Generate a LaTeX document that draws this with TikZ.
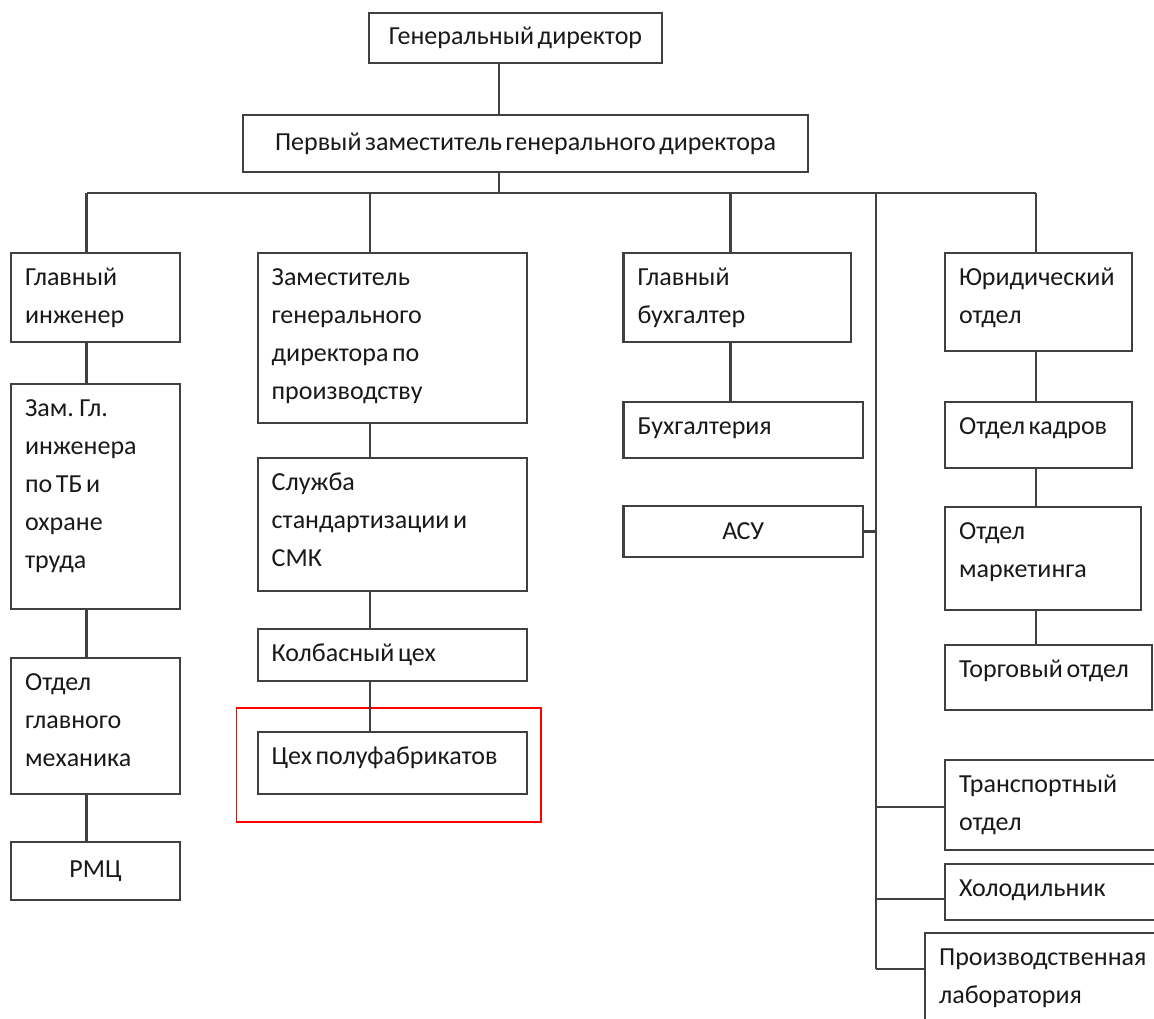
\documentclass[tikz,border=0pt]{standalone}
\usepackage{fontspec}
\setmainfont{Carlito}[WordSpace=0.6]
\newcommand\firstl{\rule{0pt}{22pt}}
\newcommand\obox[6]{%
  \node[box,minimum width={#4-#2},minimum height={#5-#3}] (#1) at ({(#2+#4)/2},{(#3+#5)/2}) {};
  \node[txt] (#1-t) at ([xshift=15pt,yshift=-11pt]#1.north west) {\firstl #6};}
\begin{document}
\begin{tikzpicture}[x=1pt,y=-1pt,
  box/.style={draw=black!75,line width=2.2pt,inner sep=0pt,rectangle},
  ctxt/.style={font=\fontsize{26}{38}\selectfont,text=black!90},
  txt/.style={anchor=north west,inner sep=0pt,align=left,font=\fontsize{26}{38}\selectfont,text=black!90},
  conn/.style={draw=black!75,line width=2.2pt},
  hl/.style={draw=red,line width=1.3pt}]
\useasboundingbox (0,0) rectangle (1154,1018);
\clip (0,0) rectangle (1154,1018);
\fill[white] (0,0) rectangle (1154,1018);
% top
\node[box,ctxt,minimum width=293,minimum height=50] (gd) at (515.5,38) {Генеральный директор};
\node[box,ctxt,minimum width=565,minimum height=57] (fd) at (525.5,143.5) {Первый заместитель генерального директора};
% column coordinates
\coordinate (trunk) at (499,193);
\coordinate (c1) at (86.5,193);
\coordinate (c2) at (370,193);
\coordinate (c3) at (730.5,193);
\coordinate (c4) at (876,193);
\coordinate (c5) at (1036,193);
% column 1
\obox{gi}{11}{253}{180}{342}{Главный\\инженер}
\obox{zgi}{11}{384}{180}{609}{Зам. Гл.\\инженера\\по ТБ и\\охране\\труда}
\obox{ogm}{11}{658}{180}{794}{Отдел\\главного\\механика}
\node[box,ctxt,minimum width=169,minimum height=58] (rmc) at (95.5,871) {РМЦ};
% column 2
\obox{zgd}{257.6}{253}{527}{423}{Заместитель\\генерального\\директора по\\производству}
\obox{smk}{257.6}{458}{527}{591}{Служба\\стандартизации и\\СМК}
\obox{kol}{257.6}{629}{527}{681}{Колбасный цех}
\obox{pf}{257.6}{732}{527}{794}{Цех полуфабрикатов}
\draw[hl] (236.6,708) rectangle (541,822);
% column 3
\obox{gb}{623.4}{253}{851}{342}{Главный\\бухгалтер}
\obox{bux}{623.4}{402}{863}{458}{Бухгалтерия}
\node[box,ctxt,minimum width=239.6,minimum height=51] (asu) at (743.2,531.5) {АСУ};
% column 5
\obox{yur}{945}{253}{1132}{351}{Юридический\\отдел}
\obox{kad}{945}{402}{1132}{468}{Отдел кадров}
\obox{mar}{945}{507}{1141}{610}{Отдел\\маркетинга}
\obox{torg}{945}{645}{1152}{710}{Торговый отдел}
\obox{tr}{945}{760}{1170}{850}{Транспортный\\отдел}
\obox{hol}{945}{864}{1170}{920}{Холодильник}
\obox{pl}{925}{933}{1170}{1040}{Производственная\\лаборатория}
% connectors
\draw[conn] (gd.south -| trunk) -- (fd.north -| trunk);
\draw[conn] (fd.south -| trunk) -- (trunk);
\draw[conn] (c1) -- (c5);
\draw[conn] (c1) -- (gi.north -| c1);
\draw[conn] (gi.south -| c1) -- (zgi.north -| c1);
\draw[conn] (zgi.south -| c1) -- (ogm.north -| c1);
\draw[conn] (ogm.south -| c1) -- (rmc.north -| c1);
\draw[conn] (c2) -- (zgd.north -| c2);
\draw[conn] (zgd.south -| c2) -- (smk.north -| c2);
\draw[conn] (smk.south -| c2) -- (kol.north -| c2);
\draw[conn] (kol.south -| c2) -- (pf.north -| c2);
\draw[conn] (c3) -- (gb.north -| c3);
\draw[conn] (gb.south -| c3) -- (bux.north -| c3);
\draw[conn] (c5) -- (yur.north -| c5);
\draw[conn] (yur.south -| c5) -- (kad.north -| c5);
\draw[conn] (kad.south -| c5) -- (mar.north -| c5);
\draw[conn] (mar.south -| c5) -- (torg.north -| c5);
\coordinate (j2) at (876,807);
\coordinate (j3) at (876,899);
\coordinate (j4) at (876,969);
\draw[conn] (c4) -- (j4);
\draw[conn] (asu.east) -- (asu.east -| c4);
\draw[conn] (j2) -- (j2 -| tr.west);
\draw[conn] (j3) -- (j3 -| hol.west);
\draw[conn] (j4) -- (j4 -| pl.west);
\end{tikzpicture}
\end{document}
